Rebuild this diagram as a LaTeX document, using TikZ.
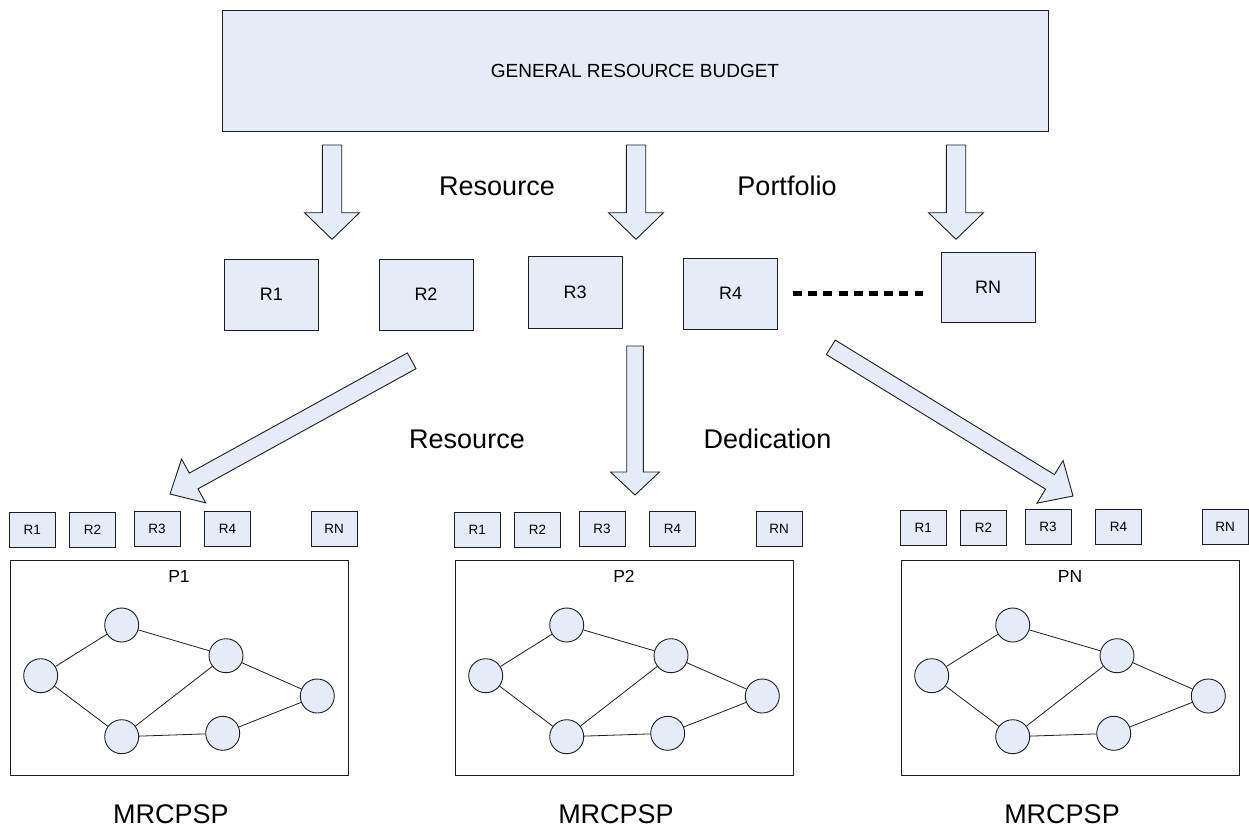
\documentclass[tikz,border=0pt]{standalone}
\usepackage{fontspec}
\setmainfont{Liberation Sans}
\usetikzlibrary{calc}
\definecolor{boxfill}{RGB}{230,236,247}
\definecolor{edgecol}{RGB}{30,30,30}
\newcommand{\blockarrow}[5]{%
  \coordinate (ba-B) at ($(#2)!#5!(#1)$);
  \filldraw[fill=boxfill,draw=edgecol,line width=0.9pt,line join=miter]
    ($(#1)!#3!90:(#2)$) -- ($(ba-B)!#3!-90:(#1)$) -- ($(ba-B)!#4!-90:(#1)$) -- (#2)
    -- ($(ba-B)!#4!90:(#1)$) -- ($(ba-B)!#3!90:(#1)$) -- ($(#1)!#3!-90:(#2)$) -- cycle;
}
\begin{document}
\begin{tikzpicture}[x=1pt,y=-1pt,
  box/.style={draw=edgecol,fill=boxfill,line width=1pt,inner sep=0pt},
  bigbox/.style={box,minimum width=826pt,minimum height=121pt,font=\fontsize{19}{21}\selectfont},
  rbox/.style={box,minimum width=94pt,minimum height=71pt,font=\fontsize{18}{20}\selectfont},
  sbox/.style={box,minimum width=46pt,minimum height=34.5pt,font=\fontsize{13.5}{15}\selectfont},
  frame/.style={draw=edgecol,line width=1pt,minimum width=337.7pt,minimum height=215pt,inner sep=0pt},
  plabel/.style={inner sep=0pt,font=\fontsize{17.5}{19}\selectfont},
  biglabel/.style={inner sep=0pt,font=\fontsize{27}{30}\selectfont},
  act/.style={circle,draw=edgecol,fill=boxfill,line width=0.9pt,minimum size=34pt,inner sep=0pt},
  link/.style={draw=edgecol,line width=0.8pt},
  dotline/.style={line width=5pt,dash pattern=on 9pt off 6.2pt}
]
\fill[white] (0,0) rectangle (1249,828);
\useasboundingbox (0,0) rectangle (1249,828);

% top budget box
\node[bigbox] (budget) at (635,70.5) {GENERAL RESOURCE BUDGET};

% arrows from budget
\coordinate (a1s) at (332,145);   \coordinate (a1e) at (332,239.3);
\coordinate (a2s) at (636,145);   \coordinate (a2e) at (636,239.3);
\coordinate (a3s) at (956,145);   \coordinate (a3e) at (956,239.3);
\blockarrow{a1s}{a1e}{9.7pt}{27.5pt}{26.6pt}
\blockarrow{a2s}{a2e}{9.7pt}{27.5pt}{26.6pt}
\blockarrow{a3s}{a3e}{9.7pt}{27.5pt}{26.6pt}

\node[biglabel,anchor=base] (lres1) at (497,195) {Resource};
\node[biglabel,anchor=base] (lport) at (787,195) {Portfolio};

% resource portfolio boxes
\node[rbox] (R1) at (271.5,294.7) {R1};
\node[rbox] (R2) at (426,294.7) {R2};
\node[rbox,minimum height=72pt] (R3) at (575,292) {R3};
\node[rbox] (R4) at (730.7,293.5) {R4};
\node[rbox,minimum height=70pt] (RN) at (988,287.7) {RN};
\coordinate (dotend) at (922.8,293.3);
\draw[dotline] ([xshift=14.7pt,yshift=0.2pt]R4.east) -- (dotend);

% dedication arrows
\coordinate (d1s) at (411.7,360.8);  \coordinate (d1e) at (170,494);
\coordinate (d2s) at (635,346);      \coordinate (d2e) at (635,495);
\coordinate (d3s) at (830.8,347.3);  \coordinate (d3e) at (1073,496);
\blockarrow{d1s}{d1e}{9pt}{25pt}{27pt}
\blockarrow{d2s}{d2e}{8.3pt}{24.5pt}{23pt}
\blockarrow{d3s}{d3e}{8.5pt}{25pt}{27pt}

\node[biglabel,anchor=base] (lres2) at (467,448) {Resource};
\node[biglabel,anchor=base] (lded) at (767.5,448) {Dedication};

% project panels
\foreach \i/\dx/\dy/\lab in {1/0/0/P1, 2/445/0/P2, 3/891/-2/PN}{
  \begin{scope}[xshift=\dx pt]
    \node[frame] (P\i) at (179.15,667.5) {};
    \node[plabel] (P\i lab) at (179,576.3) {\lab};
    \foreach \nm/\x/\y in {R1/32.2/530, R2/92.5/530, R3/157/529, R4/227.5/529, RN/334/529}{
      \node[sbox] (s\i\nm) at ({\x},{\y+\dy}) {\nm};
    }
    \node[act] (p\i a) at (40.7,675.7) {};
    \node[act] (p\i b) at (121.7,625) {};
    \node[act] (p\i c) at (226,655.7) {};
    \node[act] (p\i d) at (121.7,736.7) {};
    \node[act] (p\i e) at (222.7,733.3) {};
    \node[act] (p\i f) at (317.3,696) {};
    \draw[link] (p\i a) -- (p\i b);
    \draw[link] (p\i a) -- (p\i d);
    \draw[link] (p\i b) -- (p\i c);
    \draw[link] (p\i d) -- (p\i c);
    \draw[link] (p\i d) -- (p\i e);
    \draw[link] (p\i c) -- (p\i f);
    \draw[link] (p\i e) -- (p\i f);
    \node[biglabel,anchor=base] (m\i) at (171,823) {MRCPSP};
  \end{scope}
}
\end{tikzpicture}
\end{document}
